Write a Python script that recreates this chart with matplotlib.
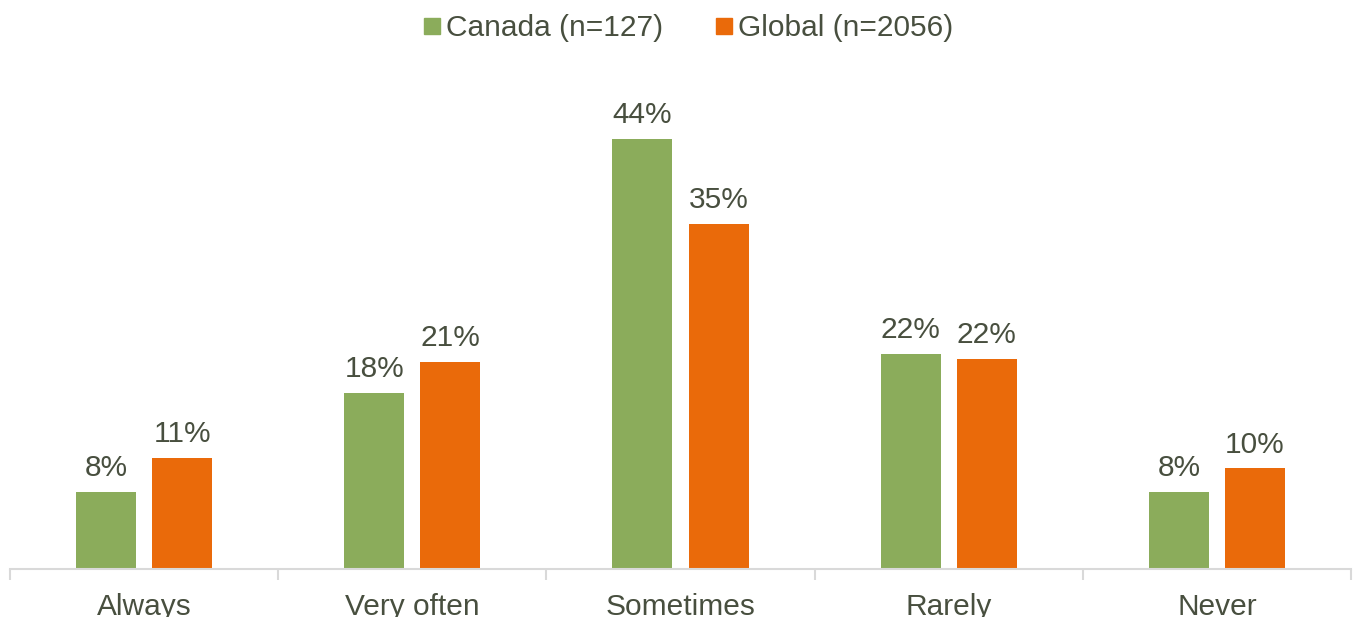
import matplotlib
matplotlib.use("Agg")
import matplotlib.pyplot as plt
import numpy as np
from matplotlib.lines import Line2D

categories = ["Always", "Very often", "Sometimes", "Rarely", "Never"]
canada = [0.079, 0.180, 0.440, 0.220, 0.079]
global_ = [0.114, 0.212, 0.353, 0.215, 0.103]
series_names = ["Canada (n=127)", "Global (n=2056)"]

GREEN = "#8BAC5B"
ORANGE = "#EA6A0A"
TEXT = "#484F3F"
AXIS = "#D9D9D9"
FS = 21.5

plt.rcParams["font.family"] = ["Liberation Sans", "DejaVu Sans"]

W, H = 1353, 617
fig = plt.figure(figsize=(W / 100, H / 100), dpi=100)
ax = fig.add_axes([10 / W, (H - 569) / H, 1341 / W, 489 / H])

x = np.arange(len(categories))
bw = 0.224
off = 0.142
b1 = ax.bar(x - off, canada, bw, color=GREEN, zorder=2)
b2 = ax.bar(x + off, global_, bw, color=ORANGE, zorder=2)

for bars, vals in ((b1, canada), (b2, global_)):
    for rect, v in zip(bars, vals):
        ax.annotate(f"{round(v * 100):.0f}%",
                    (rect.get_x() + rect.get_width() / 2, v),
                    xytext=(0, 7), textcoords="offset points",
                    ha="center", va="bottom", fontsize=FS, color=TEXT)

ax.set_xlim(-0.5, len(categories) - 0.5)
ax.set_ylim(0, 0.5)
ax.set_yticks([])
for s in ("top", "right", "left"):
    ax.spines[s].set_visible(False)
ax.spines["bottom"].set_color(AXIS)
ax.spines["bottom"].set_linewidth(1.5)

ax.set_xticks(x)
ax.set_xticklabels(categories, fontsize=FS, color=TEXT)
ax.tick_params(axis="x", length=0, pad=17)
ax.set_xticks(np.arange(-0.5, len(categories)), minor=True)
ax.tick_params(axis="x", which="minor", length=8, width=1.5, color=AXIS)

handles = [Line2D([], [], marker="s", linestyle="none", markersize=11,
                  markerfacecolor=c, markeredgecolor=c) for c in (GREEN, ORANGE)]
leg = fig.legend(handles, series_names, loc="center", bbox_to_anchor=(686 / W, 1 - 28 / H),
                 ncol=2, frameon=False, fontsize=FS, handletextpad=0.0,
                 columnspacing=1.6, handlelength=0.9)
for t in leg.get_texts():
    t.set_color(TEXT)

fig.savefig("out.png", dpi=100)
